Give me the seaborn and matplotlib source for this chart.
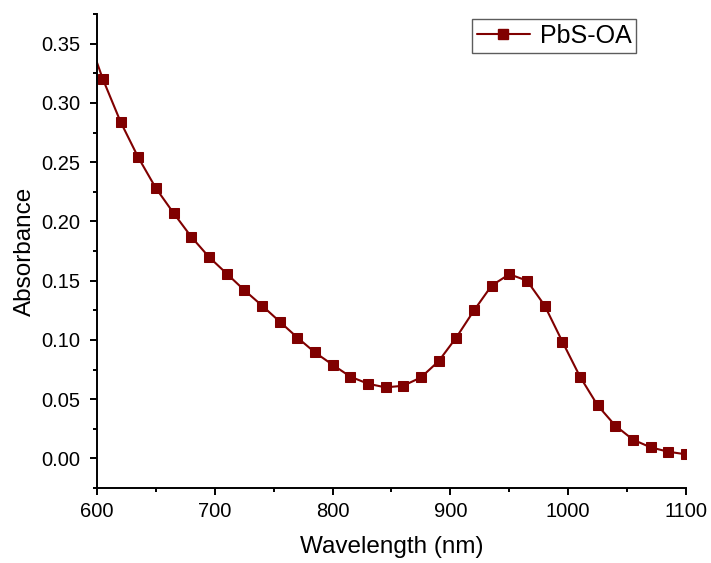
import matplotlib
matplotlib.use("Agg")
import matplotlib.pyplot as plt
from matplotlib.lines import Line2D
import seaborn as sns
import pandas as pd
from matplotlib.ticker import MultipleLocator, FormatStrFormatter

# Data
wavelength = [600, 605, 620, 635, 650, 665, 680, 695, 710, 725, 740, 755, 770, 785,
              800, 815, 830, 845, 860, 875, 890, 905, 920, 935, 950, 965, 980,
              995, 1010, 1025, 1040, 1055, 1070, 1085, 1100]
absorbance = [0.334, 0.320, 0.284, 0.254, 0.228, 0.207, 0.187, 0.170, 0.156, 0.142,
              0.129, 0.1155, 0.102, 0.0894, 0.079, 0.069, 0.063, 0.0599, 0.0613,
              0.0683, 0.082, 0.102, 0.1248, 0.1458, 0.1554, 0.150, 0.129, 0.0986,
              0.069, 0.0447, 0.0276, 0.0158, 0.0093, 0.0056, 0.0034]
series_name = "PbS-OA"
x_ticks = [600, 700, 800, 900, 1000, 1100]
y_ticks = [0.00, 0.05, 0.10, 0.15, 0.20, 0.25, 0.30, 0.35]

df = pd.DataFrame({"Wavelength": wavelength, "Absorbance": absorbance})

sns.set_style("ticks")
plt.rcParams["font.family"] = ["Liberation Sans", "DejaVu Sans"]
plt.rcParams["text.color"] = "black"
plt.rcParams["axes.labelcolor"] = "black"

fig = plt.figure(figsize=(7.11, 5.63), dpi=100)
ax = fig.add_axes([97/711, 75/563, 589/711, 474/563])

color = "#800000"
sns.lineplot(data=df, x="Wavelength", y="Absorbance", ax=ax, color=color,
             linewidth=1.5, marker="s", markersize=7, markeredgecolor=color,
             markerfacecolor=color, markevery=list(range(1, len(wavelength))),
             sort=True, estimator=None, legend=False)

ax.set_xlim(600, 1100)
ax.set_ylim(-0.025, 0.375)
ax.set_xticks(x_ticks)
ax.set_yticks(y_ticks)
ax.xaxis.set_minor_locator(MultipleLocator(50))
ax.yaxis.set_minor_locator(MultipleLocator(0.025))
ax.yaxis.set_major_formatter(FormatStrFormatter("%.2f"))

for side in ["top", "right"]:
    ax.spines[side].set_visible(False)
for side in ["left", "bottom"]:
    ax.spines[side].set_linewidth(1.4)
    ax.spines[side].set_color("black")

ax.tick_params(which="major", direction="out", length=5, width=1.4,
               labelsize=14.5, pad=5, colors="black", labelcolor="black")
ax.tick_params(axis="y", which="major", pad=7)
ax.tick_params(which="minor", direction="out", length=3, width=1.4, colors="black")

ax.set_xlabel("Wavelength (nm)", fontsize=17.5, labelpad=11, color="black")
ax.set_ylabel("Absorbance", fontsize=17.5, labelpad=4, color="black")

handle = Line2D([], [], color=color, linewidth=1.5, marker="s", markersize=7,
                markeredgecolor=color, markerfacecolor=color)
leg = ax.legend([handle], [series_name], loc="upper left",
                bbox_to_anchor=(375/589, 1 - 5/474),
                fontsize=18, frameon=True, fancybox=False, handlelength=2.1,
                handletextpad=0.4, borderpad=0.2, borderaxespad=0, numpoints=1)
leg.get_frame().set_edgecolor("#333333")
leg.get_frame().set_linewidth(1.0)
for t in leg.get_texts():
    t.set_color("black")

fig.savefig("out.png", dpi=100)
